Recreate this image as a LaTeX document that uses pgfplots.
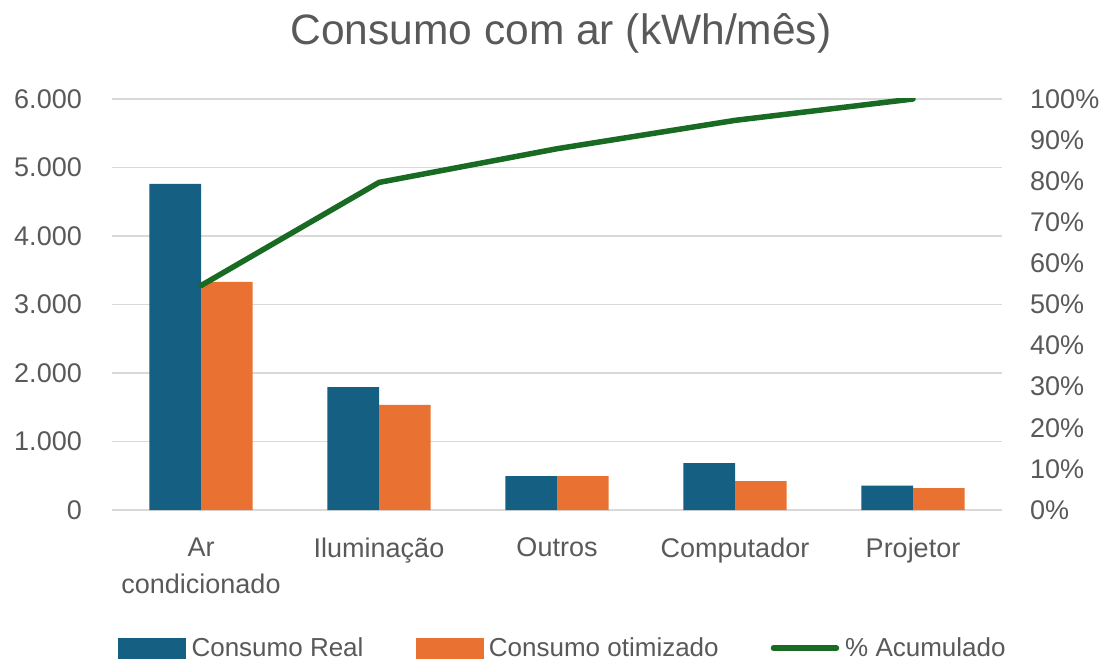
\documentclass[border=0pt]{standalone}
\usepackage{pgfplots}
\pgfplotsset{compat=1.18}
\usepackage{fontspec}
\setmainfont{Liberation Sans}
\definecolor{cReal}{HTML}{156082}
\definecolor{cOtim}{HTML}{E97132}
\definecolor{cAcum}{HTML}{196B24}
\definecolor{cText}{HTML}{595959}
\definecolor{cGrid}{HTML}{D9D9D9}
\begin{document}
\begin{tikzpicture}[x=1pt,y=1pt]
\useasboundingbox (0,0) rectangle (1107,664);
\begin{axis}[
  at={(112pt,154pt)}, anchor=south west,
  scale only axis, width=890pt, height=411pt,
  xmin=-0.5, xmax=4.5, ymin=0, ymax=6000,
  ytick={0,1000,...,6000},
  xtick={0,1,2,3,4},
  xticklabels={Ar\\condicionado, Iluminação, Outros, Computador, Projetor},
  axis line style={draw=none},
  major tick length=0pt,
  ymajorgrids, grid style={cGrid, line width=1.5pt},
  ybar, bar width=0.29,
  /pgf/number format/assume math mode=true,
  /pgf/number format/1000 sep={.},
  /pgf/number format/use comma,
  scaled y ticks=false,
  yticklabel style={font=\fontsize{27}{33}\selectfont, text=cText, anchor=east, inner sep=0pt, xshift=-30pt},
  xticklabel style={font=\fontsize{27}{37}\selectfont, text=cText, align=center, anchor=north, inner sep=0pt, yshift=-27.5pt},
  title={Consumo com ar (kWh/mês)},
  title style={font=\fontsize{42.5}{50}\selectfont, text=cText, at={(axis description cs:0.5045,1.1192)}, anchor=base, inner sep=0pt},
]
\addplot[fill=cReal, draw=none, bar shift=-0.145] coordinates {(0,4760) (1,1795) (2,496) (3,684) (4,355)};
\addplot[fill=cOtim, draw=none, bar shift=0.145] coordinates {(0,3330) (1,1533) (2,496) (3,423) (4,318)};
\end{axis}
\begin{axis}[
  at={(112pt,154pt)}, anchor=south west,
  scale only axis, width=890pt, height=411pt,
  xmin=-0.5, xmax=4.5, ymin=0, ymax=100,
  hide x axis,
  axis y line*=right,
  ytick={0,10,...,100},
  yticklabel={\pgfmathprintnumber{\tick}\%},
  /pgf/number format/assume math mode=true,
  axis line style={draw=none},
  major tick length=0pt,
  yticklabel style={font=\fontsize{27}{33}\selectfont, text=cText, anchor=west, inner sep=0pt, xshift=28pt},
  legend columns=3,
  legend style={draw=none, fill=none, font=\fontsize{26}{30}\selectfont, text=cText,
    at={(axis description cs:0.5055,-0.336)}, anchor=center,
    /tikz/every odd column/.append style={column sep=6pt},
    /tikz/every even column/.append style={column sep=52pt},
    nodes={inner sep=0pt}},
]
\addlegendimage{legend image code/.code={\fill[cReal] (0pt,-10pt) rectangle (67pt,10pt);}}
\addlegendentry{Consumo Real}
\addlegendimage{legend image code/.code={\fill[cOtim] (0pt,-10pt) rectangle (67pt,10pt);}}
\addlegendentry{Consumo otimizado}
\addplot[cAcum, line width=5.5pt, line cap=round, line join=round,
  legend image code/.code={\draw[cAcum, line width=5.5pt, line cap=round] (3pt,0pt) -- (66pt,0pt);}]
  coordinates {(0,54.6) (1,79.7) (2,87.9) (3,94.8) (4,100)};
\addlegendentry{\% Acumulado}
\end{axis}
\end{tikzpicture}
\end{document}
